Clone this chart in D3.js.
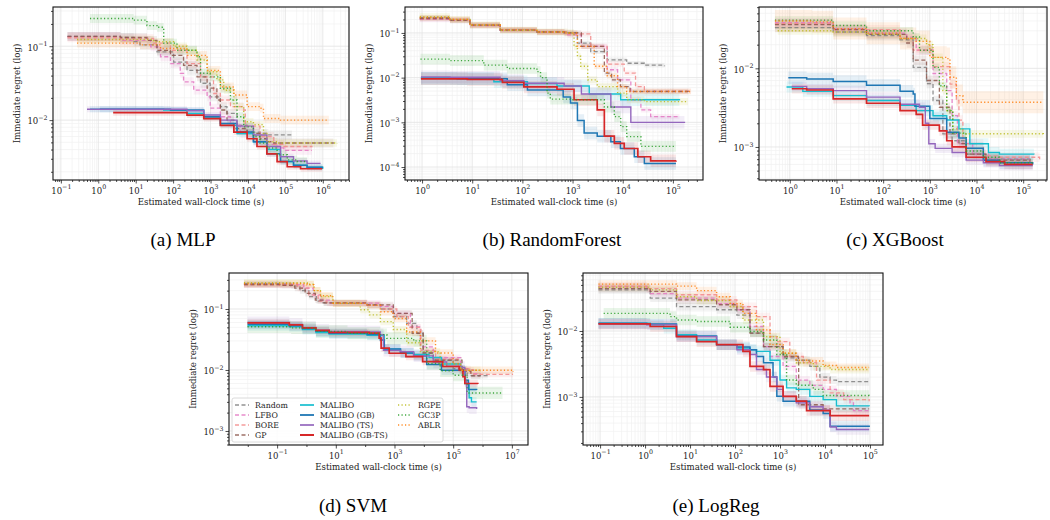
<!DOCTYPE html>
<html>
<head>
<meta charset="utf-8">
<script src="https://cdn.jsdelivr.net/npm/d3@7"></script>
<style>
  body { margin: 0; background: #fff; }
  svg text { font-family: "DejaVu Serif", serif; fill: #222; }
  svg text.caption { font-family: "Liberation Serif", "Times New Roman", serif; fill: #000; }
</style>
</head>
<body>
<svg id="chart" width="1050" height="520"></svg>
<script>
// legend order
const methods = ["Random", "LFBO", "BORE", "GP", "MALIBO", "MALIBO (GB)", "MALIBO (TS)",
  "MALIBO (GB-TS)", "RGPE", "GC3P", "ABLR"];
const panelTitles = ["(a) MLP", "(b) RandomForest", "(c) XGBoost", "(d) SVM", "(e) LogReg"];

// each curve: [wall-clock time (s), mean immediate regret], same order as methods
const mlpCurves = [
  [[0.15,0.136],[3.9,0.131],[8.8,0.115],[13,0.104],[37,0.084],[103,0.061],[235,0.047],[540,0.0315],[980,0.0206],[1830,0.0152],[2750,0.0123],[5100,0.0085],[9500,0.0069],[21000,0.0066],[35000,0.0063],[150000,0.0063]],
  [[0.15,0.135],[3.9,0.12],[25,0.098],[46,0.072],[85,0.058],[155,0.043],[190,0.033],[355,0.0254],[810,0.0206],[980,0.0145],[1830,0.0111],[3400,0.0085],[6300,0.0066],[14000,0.0051],[32000,0.0047],[60000,0.0042],[91000,0.0039],[510000,0.0039]],
  [[0.15,0.13],[3.9,0.127],[30,0.11],[85,0.088],[235,0.058],[540,0.0385],[1200,0.0229],[1830,0.0187],[3400,0.0152],[7700,0.0137],[8500,0.0083],[21000,0.006],[49000,0.0047],[91000,0.0044],[510000,0.0043]],
  [[0.15,0.136],[3.9,0.131],[20,0.12],[37,0.088],[85,0.075],[190,0.055],[435,0.0385],[810,0.027],[1480,0.0187],[1830,0.0137],[2750,0.01],[4200,0.0077],[9500,0.0066],[21000,0.0056],[32000,0.0051],[49000,0.0049],[1.9e6,0.0048]],
  [[0.6,0.014],[56,0.0137],[235,0.0123],[660,0.011],[1830,0.0085],[5100,0.0066],[14000,0.0051],[32000,0.004],[74000,0.00275],[165000,0.00245],[380000,0.0023],[1e6,0.0022]],
  [[1.1,0.014],[85,0.0137],[660,0.0111],[1830,0.009],[5100,0.0069],[14000,0.0051],[32000,0.0035],[74000,0.00275],[165000,0.00245],[380000,0.0023],[960000,0.0022]],
  [[0.5,0.014],[85,0.014],[235,0.0134],[660,0.0117],[1830,0.01],[5100,0.0083],[14000,0.0063],[32000,0.0044],[74000,0.0032],[165000,0.0028],[380000,0.0026],[870000,0.0026]],
  [[2.5,0.0126],[56,0.0126],[235,0.0117],[660,0.0105],[1830,0.0085],[4200,0.0069],[9500,0.0056],[17400,0.0044],[32000,0.0035],[60000,0.00275],[112000,0.00234],[255000,0.0022],[960000,0.0022]],
  [[0.27,0.123],[30,0.115],[103,0.1],[235,0.088],[435,0.065],[810,0.045],[1480,0.035],[2250,0.0254],[4200,0.0152],[7700,0.0095],[14000,0.0087],[26000,0.0066],[32000,0.0051],[60000,0.0049],[2.4e6,0.0048]],
  [[0.6,0.237],[8.8,0.225],[20,0.19],[37,0.18],[56,0.11],[127,0.088],[435,0.072],[540,0.043],[980,0.0385],[1830,0.027],[3400,0.0187],[5100,0.0111],[7700,0.0081],[14000,0.006],[21000,0.0049],[32000,0.0042],[60000,0.0034],[112000,0.0029],[205000,0.00275],[380000,0.00275]],
  [[0.27,0.11],[13,0.104],[46,0.093],[235,0.075],[810,0.047],[1830,0.028],[4200,0.0219],[9500,0.0152],[21000,0.0145],[26000,0.0105],[74000,0.01],[1.45e6,0.01]]
];
const rfCurves = [
  [[0.9,0.22],[3.6,0.195],[9,0.15],[36,0.117],[195,0.107],[670,0.1],[1250,0.059],[2300,0.038],[4900,0.025],[12000,0.021],[27000,0.019],[68000,0.018]],
  [[0.9,0.2],[3.6,0.19],[9,0.145],[36,0.115],[195,0.105],[800,0.09],[1500,0.05],[4900,0.015],[7900,0.0089],[14500,0.0032],[23000,0.0019],[36000,0.00134],[135000,0.00134]],
  [[0.9,0.21],[3.6,0.2],[9,0.15],[36,0.117],[195,0.105],[700,0.095],[2300,0.05],[4900,0.02],[10700,0.0126],[18000,0.0063],[27000,0.005],[230000,0.0049]],
  [[0.9,0.21],[3.6,0.19],[9,0.15],[36,0.115],[195,0.105],[700,0.1],[1500,0.05],[4300,0.0126],[6000,0.0089],[9000,0.0063],[14000,0.0049],[200000,0.0048]],
  [[0.95,0.0097],[3.6,0.0095],[27,0.0081],[126,0.0074],[490,0.0065],[2150,0.0043],[9100,0.0032],[135000,0.0031]],
  [[0.95,0.0097],[5,0.0094],[50,0.0069],[126,0.0053],[580,0.0053],[650,0.0037],[910,0.0027],[1250,0.0011],[1700,0.00058],[3100,0.00049],[5800,0.00037],[9000,0.00026],[17000,0.00017],[27000,0.00012],[115000,0.00012]],
  [[0.95,0.0104],[3.6,0.0102],[36,0.0085],[107,0.0075],[680,0.0065],[1500,0.0043],[5800,0.0022],[14500,0.001],[170000,0.00097]],
  [[0.95,0.0094],[8,0.0091],[40,0.0078],[107,0.0062],[490,0.0055],[1070,0.0032],[3100,0.0019],[4300,0.00049],[6800,0.00034],[10700,0.00026],[20000,0.00017],[36000,0.000138],[115000,0.00014]],
  [[0.9,0.23],[3.6,0.2],[9,0.15],[36,0.115],[195,0.105],[800,0.1],[1070,0.05],[1250,0.03],[1450,0.018],[2000,0.0089],[3100,0.0063],[7900,0.0045],[12000,0.0032],[27000,0.0029],[200000,0.0029]],
  [[0.93,0.026],[2.3,0.026],[3.6,0.024],[17,0.019],[50,0.016],[195,0.0136],[230,0.01],[310,0.0045],[360,0.0033],[910,0.0032],[2300,0.0032],[4300,0.0022],[6800,0.00134],[9100,0.0008],[12000,0.00048],[23000,0.00029],[115000,0.00029]],
  [[0.9,0.22],[3.6,0.2],[9,0.15],[36,0.117],[195,0.105],[670,0.1],[1250,0.05],[2700,0.018],[4900,0.011],[7900,0.0063],[12000,0.0049],[230000,0.0049]]
];
const xgbCurves = [
  [[0.48,0.033],[8.5,0.029],[44,0.026],[230,0.023],[440,0.0103],[850,0.0064],[1170,0.0039],[1900,0.00147],[3000,0.0012],[6000,0.00081],[14000,0.0007],[140000,0.00065]],
  [[0.48,0.038],[8.5,0.032],[44,0.028],[320,0.025],[510,0.017],[1170,0.0086],[2300,0.0052],[3000,0.0025],[3900,0.0011],[8300,0.00081],[18000,0.0007],[140000,0.0007]],
  [[0.48,0.037],[8.5,0.031],[230,0.024],[440,0.017],[1170,0.0105],[2700,0.0063],[3700,0.0039],[4200,0.0022],[5100,0.0011],[14000,0.00077],[31000,0.00074],[225000,0.0007]],
  [[0.48,0.036],[8.5,0.031],[44,0.027],[320,0.021],[440,0.0127],[850,0.007],[1600,0.0032],[2700,0.00147],[4200,0.0011],[6000,0.00081],[16000,0.00068],[140000,0.00065]],
  [[0.85,0.0058],[1.9,0.0051],[8.5,0.0045],[44,0.0039],[230,0.0034],[510,0.0029],[1170,0.0025],[2300,0.0022],[4200,0.0017],[7200,0.0011],[18000,0.00085],[31000,0.00081],[170000,0.0008]],
  [[0.93,0.0076],[2.3,0.0073],[8.5,0.0068],[44,0.0061],[230,0.0051],[440,0.0047],[480,0.0033],[1000,0.0023],[2300,0.00154],[4200,0.0013],[6000,0.00096],[14000,0.00068],[31000,0.00063],[160000,0.0006]],
  [[1.1,0.0059],[2.3,0.0055],[8.5,0.0052],[44,0.0043],[230,0.0035],[600,0.0032],[800,0.002],[950,0.0011],[1300,0.00096],[3000,0.00085],[6000,0.00068],[14000,0.00063],[31000,0.00058],[160000,0.00058]],
  [[1.1,0.0055],[2.3,0.0053],[8.5,0.0041],[44,0.0036],[230,0.0029],[510,0.0026],[700,0.0019],[1600,0.0016],[2300,0.0012],[3000,0.001],[6000,0.00074],[16000,0.00065],[40000,0.0006],[160000,0.0006]],
  [[0.55,0.03],[8.5,0.029],[44,0.027],[230,0.024],[850,0.02],[1170,0.0138],[1900,0.0052],[2300,0.0029],[3100,0.0017],[5100,0.00147],[270000,0.00145]],
  [[0.48,0.041],[8.5,0.035],[44,0.03],[440,0.025],[600,0.017],[1170,0.0103],[1600,0.006],[2300,0.0029],[3100,0.0015],[6000,0.00089],[14000,0.00074],[31000,0.00063],[160000,0.0006]],
  [[0.48,0.04],[3,0.039],[8.5,0.032],[44,0.028],[230,0.024],[510,0.022],[1000,0.0138],[2300,0.0133],[2700,0.0077],[3700,0.0045],[5100,0.0037],[270000,0.0037]]
];
const svmCurves = [
  [[0.0074,0.26],[0.12,0.255],[0.3,0.24],[0.6,0.2],[1.2,0.16],[2.2,0.135],[3.7,0.126],[11,0.124],[117,0.117],[330,0.1],[910,0.075],[2600,0.058],[5800,0.04],[9500,0.019],[21000,0.0145],[100000,0.0105],[300000,0.0081],[1.5e6,0.008]],
  [[0.0074,0.25],[0.3,0.25],[0.8,0.22],[1.7,0.17],[3,0.14],[6,0.125],[330,0.11],[910,0.085],[3500,0.051],[7600,0.024],[21000,0.016],[180000,0.01],[500000,0.0087],[850000,0.0087]],
  [[0.0074,0.25],[0.12,0.245],[0.5,0.22],[1.2,0.17],[2.5,0.135],[5,0.125],[117,0.115],[400,0.1],[1200,0.075],[3000,0.05],[8000,0.021],[25000,0.015],[150000,0.0105],[400000,0.0085],[1.1e7,0.0085]],
  [[0.0074,0.25],[0.15,0.245],[0.4,0.22],[0.9,0.18],[2,0.14],[4,0.126],[117,0.117],[910,0.085],[4000,0.04],[9500,0.019],[21000,0.0145],[200000,0.0095],[400000,0.008],[850000,0.008]],
  [[0.0098,0.053],[0.26,0.051],[0.73,0.046],[2.1,0.041],[5.9,0.039],[117,0.037],[450,0.022],[1600,0.019],[4500,0.018],[15000,0.016],[40000,0.0125],[180000,0.01],[250000,0.006],[350000,0.0035],[420000,0.003],[630000,0.003]],
  [[0.0098,0.056],[0.26,0.053],[0.73,0.048],[2.1,0.043],[5.9,0.04],[117,0.038],[330,0.031],[450,0.022],[1600,0.019],[4500,0.017],[12500,0.0123],[40000,0.0099],[200000,0.0099],[250000,0.0068],[330000,0.0048],[630000,0.0047]],
  [[0.0098,0.06],[0.26,0.056],[0.73,0.05],[2.1,0.045],[5.9,0.043],[117,0.042],[330,0.038],[420,0.021],[1600,0.02],[4500,0.017],[21000,0.0135],[60000,0.0115],[180000,0.011],[250000,0.0068],[290000,0.0025],[350000,0.0024],[630000,0.0023]],
  [[0.0098,0.059],[0.26,0.055],[0.73,0.049],[2.1,0.0446],[5.9,0.0413],[138,0.0403],[300,0.0333],[350,0.0229],[660,0.0188],[2450,0.0166],[9100,0.0137],[44000,0.0114],[160000,0.01],[215000,0.0078],[250000,0.006],[690000,0.0059]],
  [[0.0074,0.27],[1.05,0.255],[1.8,0.2],[3,0.16],[8,0.124],[68,0.097],[140,0.08],[330,0.062],[910,0.046],[2600,0.028],[7600,0.02],[36000,0.0126],[180000,0.0099],[850000,0.0093]],
  [[0.0098,0.051],[0.3,0.049],[2.1,0.043],[25,0.04],[330,0.038],[550,0.033],[4500,0.03],[12500,0.0128],[36000,0.0097],[100000,0.0082],[300000,0.0042],[4.8e6,0.0041]],
  [[0.0074,0.26],[1.05,0.25],[1.8,0.2],[3,0.165],[8,0.124],[117,0.115],[330,0.09],[910,0.07],[2600,0.042],[7600,0.03],[25000,0.019],[100000,0.0126],[180000,0.0099],[1.1e7,0.0093]]
];
const logregCurves = [
  [[0.092,0.042],[1.09,0.042],[1.3,0.0316],[5,0.0235],[39,0.021],[110,0.0174],[215,0.0093],[430,0.0058],[1170,0.0039],[2300,0.0036],[4600,0.0029],[7700,0.002],[13000,0.0018],[18000,0.0017],[96000,0.0017]],
  [[0.092,0.047],[1.09,0.044],[1.3,0.037],[5,0.0316],[39,0.026],[110,0.021],[215,0.0117],[430,0.0058],[600,0.0041],[1170,0.0029],[2300,0.0018],[4600,0.0015],[9100,0.0013],[18000,0.00102],[36000,0.00081],[43000,0.00062],[96000,0.00062]],
  [[0.092,0.048],[1.09,0.044],[5,0.0355],[39,0.0296],[110,0.0235],[300,0.0165],[600,0.0082],[850,0.0069],[1650,0.0041],[3300,0.0033],[6500,0.0018],[13000,0.00115],[26000,0.00091],[96000,0.00086]],
  [[0.092,0.044],[1.09,0.044],[1.3,0.04],[5,0.0296],[39,0.025],[110,0.021],[215,0.0093],[430,0.0058],[1170,0.0041],[2550,0.0039],[2600,0.00076],[9100,0.00066],[96000,0.00066]],
  [[0.092,0.0131],[1.09,0.0131],[1.3,0.0124],[2.6,0.011],[5,0.0088],[14,0.0073],[39,0.0062],[110,0.0055],[215,0.0052],[300,0.0049],[600,0.0036],[1000,0.0018],[1400,0.00137],[2300,0.0013],[4600,0.00102],[9100,0.00091],[18000,0.00073],[96000,0.00072]],
  [[0.092,0.0131],[1.09,0.0128],[5,0.0084],[39,0.0062],[110,0.0057],[215,0.0052],[300,0.0041],[430,0.0033],[700,0.002],[850,0.00102],[1170,0.00086],[4600,0.00063],[9100,0.00056],[13000,0.00036],[96000,0.00035]],
  [[0.092,0.0128],[1.09,0.0124],[5,0.0082],[39,0.0062],[110,0.0052],[215,0.0044],[300,0.0026],[500,0.002],[850,0.0013],[1170,0.00102],[2300,0.00081],[4600,0.00071],[9100,0.00063],[13000,0.00035],[18000,0.00032],[96000,0.00032]],
  [[0.092,0.0128],[1.09,0.0128],[1.3,0.0117],[5,0.0082],[14,0.0069],[39,0.0062],[150,0.0049],[215,0.0029],[430,0.0026],[600,0.00144],[1170,0.00102],[2300,0.00086],[3900,0.00062],[13000,0.00052],[96000,0.00052]],
  [[0.092,0.046],[1.09,0.046],[1.3,0.042],[5,0.033],[14,0.029],[78,0.0235],[150,0.0147],[430,0.0082],[1000,0.0046],[2300,0.0033],[5500,0.0029],[13000,0.0026],[96000,0.0026]],
  [[0.12,0.0185],[3.6,0.0165],[5,0.0147],[14,0.0139],[78,0.0114],[215,0.0098],[430,0.0073],[850,0.0044],[1400,0.0018],[2300,0.0015],[5500,0.0013],[9100,0.00105],[96000,0.00102]],
  [[0.092,0.0515],[1.09,0.0515],[5,0.048],[14,0.041],[39,0.033],[78,0.026],[150,0.0185],[300,0.0104],[600,0.0062],[1170,0.0046],[2300,0.0036],[3900,0.0035],[9100,0.003],[18000,0.0028],[96000,0.0028]]
];

// half-width of the shaded band, in decades, per method
const mlpSpread    = [0.06, 0.06, 0.06, 0.06, 0.04, 0.04, 0.04, 0.04, 0.05, 0.06, 0.06];
const rfSpread     = [0.05, 0.06, 0.06, 0.06, 0.14, 0.14, 0.14, 0.14, 0.08, 0.12, 0.06];
const xgbSpread    = [0.06, 0.06, 0.06, 0.06, 0.07, 0.08, 0.06, 0.06, 0.05, 0.05, 0.14];
const svmSpread    = [0.05, 0.05, 0.05, 0.05, 0.08, 0.08, 0.10, 0.06, 0.06, 0.10, 0.06];
const logregSpread = [0.06, 0.06, 0.06, 0.06, 0.08, 0.08, 0.08, 0.08, 0.06, 0.08, 0.06];

const curveSets = [mlpCurves, rfCurves, xgbCurves, svmCurves, logregCurves];
const spreadSets = [mlpSpread, rfSpread, xgbSpread, svmSpread, logregSpread];

// styles (kept apart from the data)
const methodStyles = [
  { color: "#7f7f7f", dash: "4,2.5", width: 1.3, opacity: 0.85 },
  { color: "#e377c2", dash: "4,2.5", width: 1.3, opacity: 0.85 },
  { color: "#f28a8a", dash: "4,2.5", width: 1.3, opacity: 0.85 },
  { color: "#8c564b", dash: "4,2.5", width: 1.3, opacity: 0.85 },
  { color: "#17becf", dash: null, width: 1.4, opacity: 1 },
  { color: "#1f77b4", dash: null, width: 1.5, opacity: 1 },
  { color: "#9467bd", dash: null, width: 1.4, opacity: 1 },
  { color: "#d62728", dash: null, width: 1.7, opacity: 1 },
  { color: "#bcbd22", dash: "1.2,2.3", width: 1.4, opacity: 0.9 },
  { color: "#2ca02c", dash: "1.2,2.3", width: 1.4, opacity: 0.9 },
  { color: "#ff7f0e", dash: "1.2,2.3", width: 1.4, opacity: 0.9 }
];

// panel geometry; limits are in decades
const panels = [
  { left: 53,  right: 349,  top: 7,   bottom: 180, xLim: [-1.21, 6.7],  yLim: [-2.81, -0.47], xMajor: [-1,0,1,2,3,4,5,6], xMinorDecades: null, yMajor: [-2,-1], captionX: 183, captionY: 246 },
  { left: 405, right: 703,  top: 7,   bottom: 180, xLim: [-0.34, 5.6],  yLim: [-4.29, -0.42], xMajor: [0,1,2,3,4,5], xMinorDecades: null, yMajor: [-4,-3,-2,-1], captionX: 552, captionY: 246 },
  { left: 759, right: 1047, top: 7,   bottom: 180, xLim: [-0.66, 5.51], yLim: [-3.42, -1.22], xMajor: [0,1,2,3,4,5], xMinorDecades: null, yMajor: [-3,-2], captionX: 895, captionY: 246 },
  { left: 229, right: 528,  top: 273, bottom: 445, xLim: [-2.64, 7.55], yLim: [-3.23, -0.41], xMajor: [-1,1,3,5,7], xMinorDecades: [-2,0,2,4,6], yMajor: [-3,-2,-1], captionX: 353, captionY: 512, legend: true },
  { left: 583, right: 883,  top: 273, bottom: 445, xLim: [-1.38, 5.29], yLim: [-3.73, -1.12], xMajor: [-1,0,1,2,3,4,5], xMinorDecades: null, yMajor: [-3,-2], captionX: 716, captionY: 512 }
];

const svg = d3.select("#chart");

function minorValues(lim, decades) {
  const out = [];
  if (decades) {
    decades.forEach(e => { if (e >= lim[0] && e <= lim[1]) out.push(10 ** e); });
    return out;
  }
  for (let e = Math.floor(lim[0]); e <= Math.ceil(lim[1]); e++) {
    for (let s = 2; s <= 9; s++) {
      const v = s * 10 ** e;
      const lv = Math.log10(v);
      if (lv >= lim[0] && lv <= lim[1]) out.push(v);
    }
  }
  return out;
}

function powerLabel(sel) {
  sel.each(function(d) {
    const e = Math.round(Math.log10(d));
    const t = d3.select(this).text("10");
    t.append("tspan").attr("dy", -4.5).attr("font-size", 6.3)
      .text(e < 0 ? "\u2212" + (-e) : String(e));
  });
}

function drawPanel(p, idx) {
  const curves = curveSets[idx], spreads = spreadSets[idx];
  const x = d3.scaleLog().domain([10 ** p.xLim[0], 10 ** p.xLim[1]]).range([p.left, p.right]);
  const y = d3.scaleLog().domain([10 ** p.yLim[0], 10 ** p.yLim[1]]).range([p.bottom, p.top]);
  const g = svg.append("g");

  const xMaj = p.xMajor.map(e => 10 ** e);
  const yMaj = p.yMajor.map(e => 10 ** e);
  const xMin = minorValues(p.xLim, p.xMinorDecades);
  const yMin = minorValues(p.yLim, null);

  // grid
  const grid = g.append("g");
  grid.selectAll(".gxm").data(xMin).join("line")
    .attr("x1", d => x(d)).attr("x2", d => x(d)).attr("y1", p.top).attr("y2", p.bottom)
    .attr("stroke", "#f0f0f0").attr("stroke-width", 0.7);
  grid.selectAll(".gym").data(yMin).join("line")
    .attr("y1", d => y(d)).attr("y2", d => y(d)).attr("x1", p.left).attr("x2", p.right)
    .attr("stroke", "#f0f0f0").attr("stroke-width", 0.7);
  grid.selectAll(".gx").data(xMaj).join("line")
    .attr("x1", d => x(d)).attr("x2", d => x(d)).attr("y1", p.top).attr("y2", p.bottom)
    .attr("stroke", "#e2e2e2").attr("stroke-width", 0.8);
  grid.selectAll(".gy").data(yMaj).join("line")
    .attr("y1", d => y(d)).attr("y2", d => y(d)).attr("x1", p.left).attr("x2", p.right)
    .attr("stroke", "#e2e2e2").attr("stroke-width", 0.8);

  // clip
  const clipId = "clip" + idx;
  svg.append("clipPath").attr("id", clipId).append("rect")
    .attr("x", p.left).attr("y", p.top).attr("width", p.right - p.left).attr("height", p.bottom - p.top);
  const plot = g.append("g").attr("clip-path", "url(#" + clipId + ")");

  // bands
  curves.forEach((c, i) => {
    const s = spreads[i];
    const area = d3.area().curve(d3.curveStepAfter)
      .x(d => x(d[0]))
      .y0(d => y(d[1] * 10 ** (-s)))
      .y1(d => y(d[1] * 10 ** s));
    plot.append("path").attr("d", area(c))
      .attr("fill", methodStyles[i].color).attr("fill-opacity", 0.11).attr("stroke", "none");
  });

  // lines
  const line = d3.line().curve(d3.curveStepAfter).x(d => x(d[0])).y(d => y(d[1]));
  curves.forEach((c, i) => {
    const st = methodStyles[i];
    plot.append("path").attr("d", line(c))
      .attr("fill", "none").attr("stroke", st.color).attr("stroke-width", st.width)
      .attr("stroke-opacity", st.opacity)
      .attr("stroke-dasharray", st.dash);
  });

  // axes
  const xAxis = g.append("g").attr("transform", "translate(0," + p.bottom + ")")
    .call(d3.axisBottom(x).tickValues(xMaj).tickSize(3.5).tickSizeOuter(0).tickPadding(4));
  xAxis.selectAll(".tick text").attr("font-size", 8.5).call(powerLabel);
  g.append("g").attr("transform", "translate(0," + p.bottom + ")")
    .call(d3.axisBottom(x).tickValues(xMin).tickSize(2).tickSizeOuter(0).tickFormat(""));
  const yAxis = g.append("g").attr("transform", "translate(" + p.left + ",0)")
    .call(d3.axisLeft(y).tickValues(yMaj).tickSize(3.5).tickSizeOuter(0).tickPadding(2));
  yAxis.selectAll(".tick text").attr("font-size", 8.5).attr("dy", "0.45em").call(powerLabel);
  g.append("g").attr("transform", "translate(" + p.left + ",0)")
    .call(d3.axisLeft(y).tickValues(yMin).tickSize(2).tickSizeOuter(0).tickFormat(""));
  g.selectAll(".domain").remove();
  g.selectAll(".tick line").attr("stroke", "#222").attr("stroke-width", 0.8);

  // frame
  g.append("rect").attr("x", p.left).attr("y", p.top)
    .attr("width", p.right - p.left).attr("height", p.bottom - p.top)
    .attr("fill", "none").attr("stroke", "#111").attr("stroke-width", 1.1);

  // labels
  g.append("text").attr("x", (p.left + p.right) / 2).attr("y", p.bottom + 25)
    .attr("text-anchor", "middle").attr("font-size", 8.6).text("Estimated wall-clock time (s)");
  g.append("text")
    .attr("transform", "translate(" + (p.left - 33) + "," + ((p.top + p.bottom) / 2) + ") rotate(-90)")
    .attr("text-anchor", "middle").attr("font-size", 8.6).text("Immediate regret (log)");

  svg.append("text").attr("class", "caption").attr("x", p.captionX).attr("y", p.captionY)
    .attr("text-anchor", "middle").attr("font-size", 19).text(panelTitles[idx]);

  if (p.legend) drawLegend(p);
}

function drawLegend(p) {
  const lg = svg.append("g").attr("transform", "translate(" + (p.left + 3) + "," + (p.bottom - 47) + ")");
  lg.append("rect").attr("width", 211).attr("height", 44).attr("rx", 2)
    .attr("fill", "#fff").attr("fill-opacity", 0.85).attr("stroke", "#d0d0d0").attr("stroke-width", 0.8);
  const colX = [3, 68, 166];
  const rowY = [7, 17, 27, 37];
  const cols = [[0, 1, 2, 3], [4, 5, 6, 7], [8, 9, 10]];
  cols.forEach((col, ci) => {
    col.forEach((mi, ri) => {
      const st = methodStyles[mi];
      const item = lg.append("g").attr("transform", "translate(" + colX[ci] + "," + rowY[ri] + ")");
      item.append("line").attr("x1", 0).attr("x2", 14).attr("y1", 0).attr("y2", 0)
        .attr("stroke", st.color).attr("stroke-width", st.width + 0.3)
        .attr("stroke-opacity", st.opacity).attr("stroke-dasharray", st.dash);
      item.append("text").attr("x", 20).attr("y", 2.8).attr("font-size", 7.8).text(methods[mi]);
    });
  });
}

panels.forEach((p, i) => drawPanel(p, i));
</script>
</body>
</html>
